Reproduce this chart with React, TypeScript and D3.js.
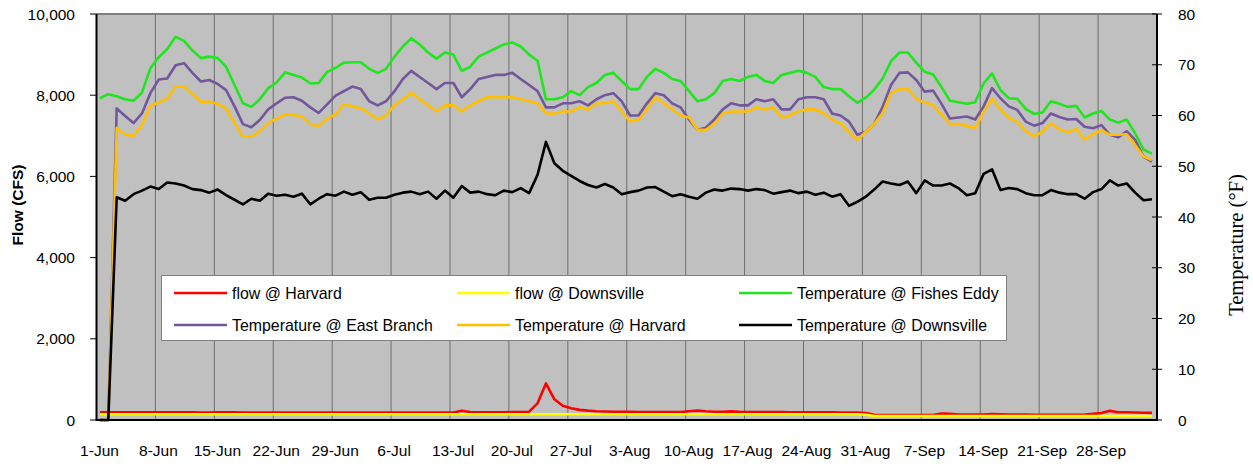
import React from "react";
import * as d3 from "d3";

const W = 1253, H = 466;
const M = { left: 96.5, right: 1157, top: 14, bottom: 420 };

const dayTickLabels = ["1-Jun","8-Jun","15-Jun","22-Jun","29-Jun","6-Jul","13-Jul","20-Jul","27-Jul","3-Aug","10-Aug","17-Aug","24-Aug","31-Aug","7-Sep","14-Sep","21-Sep","28-Sep"];
const flowTicks = [0, 2000, 4000, 6000, 8000, 10000];
const tempTicks = [0, 10, 20, 30, 40, 50, 60, 70, 80];

// flow (CFS), daily from 1-Jun
const flowHarvard = [
  190,190,190,190,190,190,190,190,190,188,188,188,185,185,190,190,188,185,185,185,185,185,185,185,185,185,185,185,185,185,
  185,185,185,185,185,185,185,185,185,185,185,185,185,230,195,190,190,190,190,195,195,205,410,900,510,350,290,250,230,215,
  210,205,200,200,198,198,195,195,195,195,215,230,215,205,200,213,200,198,195,195,195,195,192,192,190,190,190,188,185,185,
  185,170,130,125,125,125,125,125,125,125,160,150,135,135,135,135,148,140,135,135,132,130,130,130,130,130,130,135,150,170,
  225,190,190,185,180,175
];
const flowDownsville = [
  140,140,140,140,140,140,140,140,140,140,140,140,140,140,140,140,140,140,140,140,140,140,140,140,140,140,140,140,140,140,
  140,140,140,140,140,140,140,140,140,140,140,140,140,140,140,140,140,140,140,140,140,140,140,140,140,140,140,140,140,140,
  140,140,140,140,140,140,140,140,140,140,140,140,140,140,140,140,140,140,140,140,140,140,140,140,140,140,140,140,140,140,
  140,130,100,98,98,98,98,98,98,98,98,98,98,98,98,98,98,98,98,98,98,98,98,98,98,98,98,98,98,98,
  98,98,98,98,98,98
];

// temperature (°F), daily from 1-Jun
const tempFishesEddy = [
  63.4,64.2,63.8,63.2,62.9,64.5,69.3,71.5,73.1,75.5,74.7,72.8,71.3,71.6,71.3,69.6,66.0,62.4,61.7,63.2,
  65.4,66.5,68.5,68.0,67.5,66.3,66.4,68.6,69.4,70.4,70.5,70.5,
  69.2,68.4,69.2,71.6,73.6,75.2,74.0,72.4,71.2,72.4,
  72.0,68.8,69.6,71.6,72.4,73.2,74.0,74.4,73.6,72.0,
  70.8,63.2,63.2,63.6,64.8,64.0,65.6,66.4,68.0,68.4,
  66.8,65.2,65.2,67.6,69.2,68.4,67.2,66.8,64.8,62.8,
  63.2,64.4,66.8,67.2,66.8,67.6,68.0,66.8,66.4,68.0,
  68.4,68.8,68.4,67.6,65.6,65.2,65.2,
  63.8,62.5,63.5,65.1,67.3,70.7,72.4,72.4,70.4,68.6,68.1,65.6,62.9,62.6,62.3,62.6,66.3,68.3,65.0,63.4,
  63.3,61.3,60.3,60.6,62.8,62.3,61.7,61.9,59.6,60.4,60.9,59.2,58.6,59.2,56.5,53.3,52.5
];
const tempEastBranch = [
  0,0,
  61.4,59.9,58.5,60.4,64.4,67.1,67.3,69.9,70.3,68.4,66.7,67.0,66.2,65.0,61.8,58.3,57.7,59.1,
  61.2,62.4,63.5,63.6,62.9,61.6,60.5,62.2,63.9,64.8,65.7,65.2,
  62.8,62.0,62.8,64.8,67.2,68.8,67.6,66.4,65.2,66.4,
  66.4,63.6,65.2,67.2,67.6,68.0,68.0,68.4,67.2,66.0,
  64.8,61.6,61.6,62.4,62.4,62.8,62.0,63.2,64.0,64.4,
  62.8,60.0,60.0,62.4,64.4,64.0,62.4,61.6,59.2,57.2,
  57.6,59.2,61.2,62.4,62.0,62.0,63.2,62.8,63.2,61.2,
  61.2,63.2,63.6,63.6,63.2,60.4,60.0,
  58.8,56.2,56.8,58.3,61.7,66.0,68.4,68.5,67.0,64.7,64.9,62.3,59.4,59.6,59.8,59.2,61.8,65.4,63.4,61.8,
  61.1,58.8,58.0,58.5,60.4,59.7,59.2,59.3,57.8,57.5,58.1,56.2,55.7,56.9,55.2,51.9,50.9
];
const tempHarvard = [
  0,0,
  57.6,56.2,56.0,58.1,61.9,62.6,63.3,65.7,65.7,64.2,62.7,62.7,62.3,61.4,58.5,55.8,55.8,56.9,
  58.5,59.4,60.2,60.1,59.8,58.3,57.9,59.4,60.2,62.2,61.8,61.4,
  60.4,59.2,60.0,62.0,63.2,64.4,63.2,62.0,60.8,62.0,
  62.0,60.8,62.0,62.8,63.6,63.6,63.6,63.6,63.2,62.8,
  62.4,60.4,60.4,60.8,60.8,61.6,61.2,62.4,62.4,62.8,
  60.8,58.8,59.2,61.2,63.6,62.4,61.2,60.0,59.6,57.2,
  57.2,58.4,60.4,60.8,60.8,60.8,61.6,61.2,61.6,59.6,
  60.0,60.8,61.2,61.2,60.4,59.2,58.4,
  56.8,55.2,56.8,58.3,60.5,64.4,65.2,65.2,63.3,62.5,62.1,60.1,58.3,58.3,58.0,57.5,60.7,63.4,61.1,59.5,
  58.8,56.9,55.9,56.8,58.4,57.3,56.7,57.3,55.3,56.3,57.1,56.2,56.2,56.3,54.2,51.9,51.2
];
const tempDownsville = [
  0,0,
  43.9,43.2,44.5,45.2,46.0,45.5,46.8,46.6,46.2,45.5,45.3,44.8,45.4,44.3,43.4,42.5,43.6,43.2,
  44.6,44.2,44.4,44.0,44.6,42.5,43.6,44.5,44.2,45.0,44.4,44.9,43.4,43.8,43.8,44.4,44.8,45.0,44.5,45.0,
  43.6,45.2,43.8,46.1,44.8,
  45.0,44.5,44.3,45.2,44.9,45.7,44.7,48.3,54.8,50.6,49.1,48.1,47.1,46.3,45.8,46.5,45.8,44.5,44.9,45.2,
  45.8,45.9,45.0,44.1,44.5,
  44.0,43.6,44.8,45.4,45.2,45.6,45.5,45.2,45.5,45.3,44.6,44.9,45.2,44.7,45.0,44.4,44.8,44.0,44.5,
  42.2,43.0,44.0,45.4,47.0,46.6,46.3,47.0,44.7,47.2,46.2,46.2,46.6,45.7,44.3,44.7,48.5,49.4,45.3,45.7,
  45.5,44.7,44.3,44.3,45.3,44.8,44.5,44.5,43.6,44.9,45.5,47.2,46.2,46.6,44.8,43.3,43.5
];

const series = [
  { name: "flow @ Harvard", data: flowHarvard, axis: "flow", color: "#ff0000" },
  { name: "flow @ Downsville", data: flowDownsville, axis: "flow", color: "#ffff00" },
  { name: "Temperature @ Fishes Eddy", data: tempFishesEddy, axis: "temp", color: "#1fe61f" },
  { name: "Temperature @ East Branch", data: tempEastBranch, axis: "temp", color: "#72579c" },
  { name: "Temperature @ Harvard", data: tempHarvard, axis: "temp", color: "#ffc000" },
  { name: "Temperature @ Downsville", data: tempDownsville, axis: "temp", color: "#000000" },
];

const FONT = "'Liberation Sans', Arial, sans-serif";

export default function App() {
  const x = d3.scaleLinear().domain([0, 126]).range([M.left, M.right]);
  const yFlow = d3.scaleLinear().domain([0, 10000]).range([M.bottom, M.top]);
  const yTemp = d3.scaleLinear().domain([0, 80]).range([M.bottom, M.top]);

  const makeLine = (s) => {
    const ys = s.axis === "flow" ? yFlow : yTemp;
    return d3.line<number>().x((_, i) => x(i + 0.4)).y((v) => ys(v))(s.data) || "";
  };

  const legendLineX = [174, 457, 739];
  const legendY = [293, 325];

  return (
    <svg width={W} height={H} style={{ position: "absolute", left: 0, top: 0, background: "#fff" }} fontFamily={FONT}>
      <rect x={M.left} y={M.top} width={M.right - M.left} height={M.bottom - M.top} fill="#c0c0c0" />
      {dayTickLabels.map((_, i) => (
        i > 0 ? <line key={"g" + i} x1={x(i * 7)} x2={x(i * 7)} y1={M.top} y2={M.bottom} stroke="#6e6e6e" strokeWidth={1} /> : null
      ))}
      <line x1={M.left} x2={M.right} y1={M.top} y2={M.top} stroke="#808080" strokeWidth={2} />

      {series.map((s) => (
        <path key={s.name} d={makeLine(s)} fill="none" stroke={s.color} strokeWidth={2.6} strokeLinejoin="round" />
      ))}

      <line x1={M.left} x2={M.left} y1={M.top} y2={M.bottom + 1} stroke="#000" strokeWidth={2} />
      <line x1={M.right} x2={M.right} y1={M.top} y2={M.bottom + 1} stroke="#000" strokeWidth={2} />
      <line x1={M.left} x2={M.right} y1={M.bottom} y2={M.bottom} stroke="#000" strokeWidth={2} />

      {flowTicks.map((t) => (
        <g key={"f" + t}>
          <line x1={90} x2={M.left} y1={yFlow(t)} y2={yFlow(t)} stroke="#000" strokeWidth={1} />
          <text x={75} y={yFlow(t) + 5.5} textAnchor="end" fontSize={15.5} fill="#000">{d3.format(",")(t)}</text>
        </g>
      ))}
      {tempTicks.map((t) => (
        <g key={"t" + t}>
          <line x1={M.right - 5} x2={M.right + 5} y1={yTemp(t)} y2={yTemp(t)} stroke="#000" strokeWidth={1} />
          <text x={1178} y={yTemp(t) + 5.5} textAnchor="start" fontSize={15.5} fill="#000">{t}</text>
        </g>
      ))}
      {dayTickLabels.map((lab, i) => (
        <text key={"x" + i} x={x(i * 7) + 3} y={456} textAnchor="middle" fontSize={15.5} fill="#000">{lab}</text>
      ))}

      <text transform="translate(23,205) rotate(-90)" textAnchor="middle" fontSize={15.5} fontWeight="bold" fill="#000">Flow (CFS)</text>
      <text transform="translate(1243,245) rotate(-90)" textAnchor="middle" fontSize={20.5} fontFamily="'Liberation Serif', 'Times New Roman', serif" fill="#000">Temperature (°F)</text>

      <rect x={161.5} y={275.5} width={845} height={65} fill="#fff" stroke="#808080" strokeWidth={1} />
      {series.map((s, i) => {
        const cx = legendLineX[i % 3];
        const cy = legendY[Math.floor(i / 3)];
        return (
          <g key={"l" + i}>
            <line x1={cx} x2={cx + 53} y1={cy} y2={cy} stroke={s.color} strokeWidth={2.6} />
            <text x={cx + 58} y={cy + 5.5} fontSize={15.9} fill="#000">{s.name}</text>
          </g>
        );
      })}
    </svg>
  );
}
